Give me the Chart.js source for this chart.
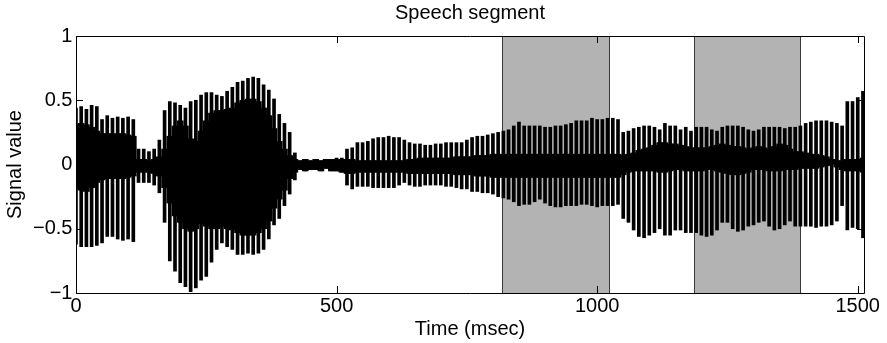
<!DOCTYPE html>
<html>
<head>
<meta charset="utf-8">
<title>Speech segment</title>
<script src="https://cdn.jsdelivr.net/npm/chart.js@4.4.1/dist/chart.umd.min.js"></script>
<style>
  html, body { margin: 0; padding: 0; background: #fff; }
  #wrap { width: 887px; height: 343px; }
</style>
</head>
<body>
<div id="wrap"><canvas id="speechChart" width="887" height="343"></canvas></div>
<script>
// time axis (msec), one sample every 10 msec
const timeMs = [
  0, 10, 20, 30, 40, 50, 60, 70, 80, 90,
  100, 110, 120, 130, 140, 150, 160, 170, 180, 190,
  200, 210, 220, 230, 240, 250, 260, 270, 280, 290,
  300, 310, 320, 330, 340, 350, 360, 370, 380, 390,
  400, 410, 420, 430, 440, 450, 460, 470, 480, 490,
  500, 510, 520, 530, 540, 550, 560, 570, 580, 590,
  600, 610, 620, 630, 640, 650, 660, 670, 680, 690,
  700, 710, 720, 730, 740, 750, 760, 770, 780, 790,
  800, 810, 820, 830, 840, 850, 860, 870, 880, 890,
  900, 910, 920, 930, 940, 950, 960, 970, 980, 990,
  1000, 1010, 1020, 1030, 1040, 1050, 1060, 1070, 1080, 1090,
  1100, 1110, 1120, 1130, 1140, 1150, 1160, 1170, 1180, 1190,
  1200, 1210, 1220, 1230, 1240, 1250, 1260, 1270, 1280, 1290,
  1300, 1310, 1320, 1330, 1340, 1350, 1360, 1370, 1380, 1390,
  1400, 1410, 1420, 1430, 1440, 1450, 1460, 1470, 1480, 1490,
  1500, 1510
];

// peak (upper) envelope of the pitch pulses
const peakHigh = [
  0.44, 0.45, 0.43, 0.46, 0.45, 0.35, 0.38, 0.36, 0.37, 0.36,
  0.37, 0.35, 0.12, 0.12, 0.10, 0.12, 0.19, 0.42, 0.49, 0.48,
  0.46, 0.44, 0.49, 0.50, 0.54, 0.56, 0.56, 0.54, 0.53, 0.57,
  0.60, 0.64, 0.65, 0.67, 0.68, 0.67, 0.62, 0.58, 0.51, 0.39,
  0.32, 0.25, 0.09, 0.03, 0.04, 0.03, 0.04, 0.03, 0.04, 0.04,
  0.05, 0.05, 0.12, 0.13, 0.17, 0.17, 0.18, 0.20, 0.21, 0.21,
  0.22, 0.21, 0.21, 0.19, 0.17, 0.16, 0.16, 0.15, 0.15, 0.16,
  0.16, 0.17, 0.17, 0.17, 0.17, 0.19, 0.21, 0.22, 0.22, 0.23,
  0.24, 0.25, 0.26, 0.27, 0.30, 0.33, 0.30, 0.30, 0.30, 0.30,
  0.29, 0.29, 0.30, 0.30, 0.31, 0.32, 0.34, 0.34, 0.34, 0.36,
  0.35, 0.35, 0.36, 0.36, 0.35, 0.25, 0.26, 0.28, 0.29, 0.30,
  0.30, 0.29, 0.27, 0.32, 0.30, 0.30, 0.27, 0.29, 0.26, 0.29,
  0.29, 0.29, 0.27, 0.26, 0.29, 0.30, 0.30, 0.30, 0.29, 0.27,
  0.26, 0.27, 0.29, 0.29, 0.29, 0.29, 0.28, 0.29, 0.29, 0.30,
  0.32, 0.33, 0.34, 0.34, 0.34, 0.33, 0.32, 0.30, 0.49, 0.49,
  0.52, 0.57
];

// peak (lower) envelope
const peakLow = [
  -0.62, -0.64, -0.64, -0.64, -0.63, -0.61, -0.56, -0.56, -0.58, -0.59,
  -0.58, -0.60, -0.14, -0.14, -0.14, -0.16, -0.22, -0.45, -0.75, -0.83,
  -0.92, -0.95, -0.99, -0.96, -0.90, -0.87, -0.76, -0.66, -0.61, -0.64,
  -0.66, -0.70, -0.70, -0.69, -0.70, -0.69, -0.66, -0.58, -0.47, -0.42,
  -0.32, -0.23, -0.12, -0.04, -0.05, -0.04, -0.04, -0.05, -0.03, -0.05,
  -0.05, -0.06, -0.16, -0.19, -0.17, -0.17, -0.17, -0.18, -0.18, -0.18,
  -0.18, -0.18, -0.16, -0.14, -0.16, -0.17, -0.17, -0.16, -0.16, -0.16,
  -0.16, -0.17, -0.17, -0.18, -0.19, -0.19, -0.21, -0.21, -0.22, -0.22,
  -0.23, -0.25, -0.26, -0.27, -0.29, -0.32, -0.31, -0.31, -0.29, -0.27,
  -0.30, -0.32, -0.33, -0.33, -0.32, -0.32, -0.32, -0.31, -0.31, -0.32,
  -0.33, -0.32, -0.32, -0.32, -0.31, -0.42, -0.45, -0.51, -0.56, -0.57,
  -0.55, -0.53, -0.50, -0.55, -0.55, -0.51, -0.51, -0.53, -0.53, -0.53,
  -0.55, -0.56, -0.55, -0.51, -0.45, -0.45, -0.50, -0.52, -0.51, -0.48,
  -0.47, -0.45, -0.44, -0.48, -0.51, -0.50, -0.47, -0.44, -0.48, -0.48,
  -0.48, -0.48, -0.49, -0.48, -0.48, -0.47, -0.44, -0.32, -0.51, -0.49,
  -0.50, -0.57
];

// dense (solid black) core of the waveform
const coreHigh = [
  0.31, 0.32, 0.31, 0.29, 0.26, 0.24, 0.24, 0.24, 0.24, 0.24,
  0.23, 0.22, 0.04, 0.04, 0.03, 0.04, 0.06, 0.12, 0.22, 0.30,
  0.34, 0.30, 0.20, 0.18, 0.26, 0.34, 0.40, 0.42, 0.42, 0.43,
  0.44, 0.48, 0.50, 0.51, 0.51, 0.49, 0.44, 0.38, 0.28, 0.18,
  0.12, 0.07, 0.04, 0.03, 0.04, 0.03, 0.04, 0.03, 0.04, 0.04,
  0.04, 0.04, 0.04, 0.04, 0.03, 0.03, 0.03, 0.03, 0.03, 0.03,
  0.03, 0.03, 0.03, 0.03, 0.04, 0.04, 0.05, 0.05, 0.05, 0.05,
  0.05, 0.05, 0.05, 0.06, 0.06, 0.06, 0.06, 0.07, 0.07, 0.07,
  0.08, 0.08, 0.08, 0.08, 0.08, 0.08, 0.08, 0.08, 0.08, 0.08,
  0.08, 0.08, 0.08, 0.08, 0.08, 0.08, 0.08, 0.08, 0.08, 0.08,
  0.08, 0.08, 0.08, 0.08, 0.08, 0.07, 0.08, 0.09, 0.11, 0.12,
  0.13, 0.15, 0.17, 0.17, 0.16, 0.16, 0.15, 0.14, 0.13, 0.13,
  0.13, 0.13, 0.14, 0.15, 0.16, 0.15, 0.14, 0.14, 0.13, 0.12,
  0.13, 0.14, 0.13, 0.12, 0.14, 0.16, 0.15, 0.12, 0.10, 0.10,
  0.09, 0.08, 0.08, 0.07, 0.06, 0.04, 0.03, 0.03, 0.04, 0.04,
  0.04, 0.05
];

const coreLow = [
  -0.19, -0.20, -0.21, -0.18, -0.14, -0.12, -0.11, -0.11, -0.11, -0.11,
  -0.10, -0.09, -0.06, -0.06, -0.06, -0.07, -0.09, -0.18, -0.30, -0.40,
  -0.45, -0.50, -0.52, -0.50, -0.46, -0.48, -0.50, -0.50, -0.48, -0.50,
  -0.51, -0.53, -0.55, -0.55, -0.55, -0.53, -0.50, -0.44, -0.34, -0.27,
  -0.20, -0.11, -0.06, -0.04, -0.05, -0.04, -0.04, -0.05, -0.03, -0.05,
  -0.05, -0.06, -0.07, -0.07, -0.06, -0.06, -0.06, -0.06, -0.06, -0.06,
  -0.06, -0.06, -0.06, -0.06, -0.07, -0.07, -0.07, -0.07, -0.07, -0.07,
  -0.07, -0.07, -0.07, -0.08, -0.08, -0.08, -0.08, -0.09, -0.09, -0.09,
  -0.10, -0.10, -0.10, -0.10, -0.10, -0.10, -0.10, -0.10, -0.10, -0.10,
  -0.10, -0.10, -0.10, -0.10, -0.10, -0.10, -0.10, -0.10, -0.10, -0.10,
  -0.10, -0.10, -0.10, -0.10, -0.10, -0.08, -0.06, -0.05, -0.05, -0.05,
  -0.05, -0.05, -0.06, -0.06, -0.05, -0.04, -0.04, -0.05, -0.05, -0.05,
  -0.05, -0.04, -0.04, -0.05, -0.06, -0.07, -0.08, -0.08, -0.07, -0.06,
  -0.04, -0.04, -0.04, -0.05, -0.05, -0.05, -0.04, -0.04, -0.04, -0.03,
  -0.03, -0.03, -0.03, -0.02, -0.01, 0.00, -0.02, -0.04, -0.05, -0.05,
  -0.05, -0.06
];

// highlighted intervals (msec)
const shadedRegions = [[818, 1022], [1186, 1390]];

const xTicks = [0, 500, 1000, 1500];
const yTicks = [-1, -0.5, 0, 0.5, 1];
const yTickLabels = ['\u22121', '\u22120.5', '0', '0.5', '1'];

const fontFamily = "'Liberation Sans', Arial, Helvetica, sans-serif";

// grey bands behind the signal
const shadePlugin = {
    id: 'shade',
    beforeDatasetsDraw(chart) {
        const { ctx, chartArea, scales } = chart;
        ctx.save();
        shadedRegions.forEach(([a, b]) => {
            const x0 = Math.round(scales.x.getPixelForValue(a));
            const x1 = Math.round(scales.x.getPixelForValue(b));
            ctx.fillStyle = '#b3b3b3';
            ctx.fillRect(x0, chartArea.top, x1 - x0, chartArea.bottom - chartArea.top);
            ctx.strokeStyle = '#3a3a3a';
            ctx.lineWidth = 1;
            ctx.beginPath();
            ctx.moveTo(x0 + 0.5, chartArea.top);
            ctx.lineTo(x0 + 0.5, chartArea.bottom);
            ctx.moveTo(x1 + 0.5, chartArea.top);
            ctx.lineTo(x1 + 0.5, chartArea.bottom);
            ctx.stroke();
        });
        ctx.restore();
    }
};

// matlab style box with inward ticks
const boxPlugin = {
    id: 'box',
    afterDatasetsDraw(chart) {
        const { ctx, chartArea, scales } = chart;
        const { left, right, top, bottom } = chartArea;
        const len = 7;
        ctx.save();
        ctx.strokeStyle = '#000';
        ctx.lineWidth = 1;
        ctx.beginPath();
        ctx.rect(Math.round(left) + 0.5, Math.round(top) + 0.5,
            Math.round(right - left), Math.round(bottom - top));
        xTicks.forEach(v => {
            const px = Math.round(scales.x.getPixelForValue(v)) + 0.5;
            ctx.moveTo(px, bottom);
            ctx.lineTo(px, bottom - len);
            ctx.moveTo(px, top);
            ctx.lineTo(px, top + len);
        });
        yTicks.forEach(v => {
            const py = Math.round(scales.y.getPixelForValue(v)) + 0.5;
            ctx.moveTo(left, py);
            ctx.lineTo(left + len, py);
            ctx.moveTo(right, py);
            ctx.lineTo(right - len, py);
        });
        ctx.stroke();
        ctx.restore();
    }
};

const ctx = document.getElementById('speechChart').getContext('2d');
const speechChart = new Chart(ctx, {
    type: 'bar',
    data: {
        datasets: [{
            label: 'core',
            data: timeMs.map((t, i) => ({ x: t, y: [coreLow[i], coreHigh[i]] })),
            backgroundColor: '#000',
            borderWidth: 0,
            barThickness: 6,
            grouped: false
        }, {
            label: 'signal',
            data: timeMs.map((t, i) => ({ x: t, y: [peakLow[i], peakHigh[i]] })),
            backgroundColor: '#000',
            borderWidth: 0,
            barThickness: 3,
            grouped: false
        }]
    },
    options: {
        responsive: false,
        animation: false,
        events: [],
        layout: {
            padding: { top: 1, left: 3.5, right: 23, bottom: 0 }
        },
        plugins: {
            legend: { display: false },
            tooltip: { enabled: false },
            title: {
                display: true,
                fullSize: false,
                text: 'Speech segment',
                color: '#000',
                font: { family: fontFamily, size: 20, weight: 'normal', lineHeight: 1.2 },
                padding: { top: 0, bottom: 11 }
            }
        },
        scales: {
            x: {
                type: 'linear',
                min: 0,
                max: 1512,
                offset: false,
                afterBuildTicks: (scale) => {
                    scale.ticks = xTicks.map(v => ({ value: v }));
                },
                grid: { display: false, drawTicks: false },
                border: { display: false },
                ticks: {
                    color: '#000',
                    padding: 3,
                    maxRotation: 0,
                    autoSkip: false,
                    font: { family: fontFamily, size: 20, lineHeight: 1 },
                    callback: (value) => String(value)
                },
                title: {
                    display: true,
                    text: 'Time (msec)',
                    color: '#000',
                    font: { family: fontFamily, size: 20, lineHeight: 1 },
                    padding: { top: 0, bottom: 4 }
                }
            },
            y: {
                min: -1,
                max: 1,
                afterBuildTicks: (scale) => {
                    scale.ticks = yTicks.map(v => ({ value: v }));
                },
                grid: { display: false, drawTicks: false },
                border: { display: false },
                ticks: {
                    color: '#000',
                    padding: 3.5,
                    autoSkip: false,
                    font: { family: fontFamily, size: 20, lineHeight: 1 },
                    callback: (value, index) => yTickLabels[index]
                },
                title: {
                    display: true,
                    text: 'Signal value',
                    color: '#000',
                    font: { family: fontFamily, size: 20, lineHeight: 1.2 },
                    padding: { top: 0, bottom: 2 }
                }
            }
        }
    },
    plugins: [shadePlugin, boxPlugin]
});
</script>
</body>
</html>
